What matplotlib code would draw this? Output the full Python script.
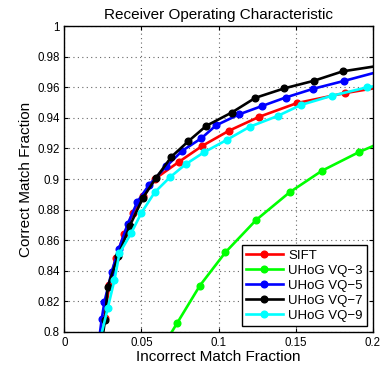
import matplotlib
matplotlib.use('Agg')
import matplotlib.pyplot as plt
from matplotlib.ticker import FormatStrFormatter

plt.rcParams['font.family'] = ['Liberation Sans', 'DejaVu Sans']

# ROC curves: incorrect match fraction (x) vs correct match fraction (y)
sift_x = [0.0240, 0.0262, 0.0291, 0.0333, 0.0387, 0.0442, 0.0512, 0.0586, 0.0744, 0.0895,
          0.1068, 0.1264, 0.1510, 0.1820, 0.2050]
sift_y = [0.7950, 0.8092, 0.8307, 0.8484, 0.8639, 0.8776, 0.8886, 0.9000, 0.9113, 0.9217,
          0.9316, 0.9407, 0.9497, 0.9562, 0.9600]

vq3_x = [0.0576, 0.0731, 0.0879, 0.1045, 0.1244, 0.1461, 0.1671, 0.1909, 0.2150]
vq3_y = [0.7800, 0.8057, 0.8303, 0.8521, 0.8732, 0.8913, 0.9054, 0.9175, 0.9280]

vq5_x = [0.0225, 0.0242, 0.0260, 0.0307, 0.0353, 0.0411, 0.0473, 0.0549, 0.0661, 0.0765,
         0.0888, 0.0984, 0.1134, 0.1281, 0.1435, 0.1614, 0.1816, 0.2050]
vq5_y = [0.7950, 0.8083, 0.8198, 0.8394, 0.8542, 0.8706, 0.8850, 0.8961, 0.9083, 0.9185,
         0.9266, 0.9351, 0.9423, 0.9477, 0.9533, 0.9590, 0.9642, 0.9705]

vq7_x = [0.0245, 0.0264, 0.0281, 0.0349, 0.0424, 0.0510, 0.0595, 0.0695, 0.0803, 0.0921,
         0.1086, 0.1239, 0.1427, 0.1617, 0.1805, 0.2100]
vq7_y = [0.7950, 0.8078, 0.8296, 0.8497, 0.8693, 0.8878, 0.9008, 0.9146, 0.9246, 0.9348,
         0.9435, 0.9531, 0.9593, 0.9642, 0.9704, 0.9750]

vq9_x = [0.0220, 0.0281, 0.0325, 0.0357, 0.0435, 0.0500, 0.0586, 0.0684, 0.0786, 0.0906,
         0.1052, 0.1203, 0.1383, 0.1534, 0.1734, 0.1961, 0.2150]
vq9_y = [0.7900, 0.8155, 0.8340, 0.8514, 0.8649, 0.8780, 0.8913, 0.9011, 0.9096, 0.9175,
         0.9255, 0.9342, 0.9412, 0.9484, 0.9544, 0.9599, 0.9630]

series = [
    ('SIFT', sift_x, sift_y, '#ff0000'),
    ('UHoG VQ\u22123', vq3_x, vq3_y, '#00ff00'),
    ('UHoG VQ\u22125', vq5_x, vq5_y, '#0000ff'),
    ('UHoG VQ\u22127', vq7_x, vq7_y, '#000000'),
    ('UHoG VQ\u22129', vq9_x, vq9_y, '#00ffff'),
]

x_ticks = [0, 0.05, 0.1, 0.15, 0.2]
y_ticks = [0.8, 0.82, 0.84, 0.86, 0.88, 0.9, 0.92, 0.94, 0.96, 0.98, 1.0]

fig = plt.figure(figsize=(3.81, 3.73), dpi=100)
ax = fig.add_axes([0.169, 0.110, 0.809, 0.820])

for label, xs, ys, color in series:
    ax.plot(xs, ys, '-o', color=color, linewidth=1.9, markersize=4.8, label=label)

ax.set_xlim(0, 0.2)
ax.set_ylim(0.8, 1.0)
ax.set_xticks(x_ticks)
ax.set_yticks(y_ticks)
ax.xaxis.set_major_formatter(FormatStrFormatter('%g'))
ax.yaxis.set_major_formatter(FormatStrFormatter('%g'))
ax.tick_params(direction='in', top=True, right=True, labelsize=8.3, length=3, width=0.8)
ax.grid(True, linestyle=(0, (1, 3)), color='#666666', linewidth=0.8)
for sp in ax.spines.values():
    sp.set_linewidth(1.0)

ax.set_title('Receiver Operating Characteristic', fontsize=11, pad=5)
ax.set_xlabel('Incorrect Match Fraction', fontsize=11, labelpad=1)
ax.set_ylabel('Correct Match Fraction', fontsize=11, labelpad=3)

leg = ax.legend(loc='lower right', fontsize=9.5, fancybox=False, framealpha=1,
                edgecolor='black', handlelength=2.8, borderaxespad=0.45,
                labelspacing=0.22, borderpad=0.3, handletextpad=0.4)
leg.get_frame().set_linewidth(1.0)

fig.savefig('out.png', dpi=100)
